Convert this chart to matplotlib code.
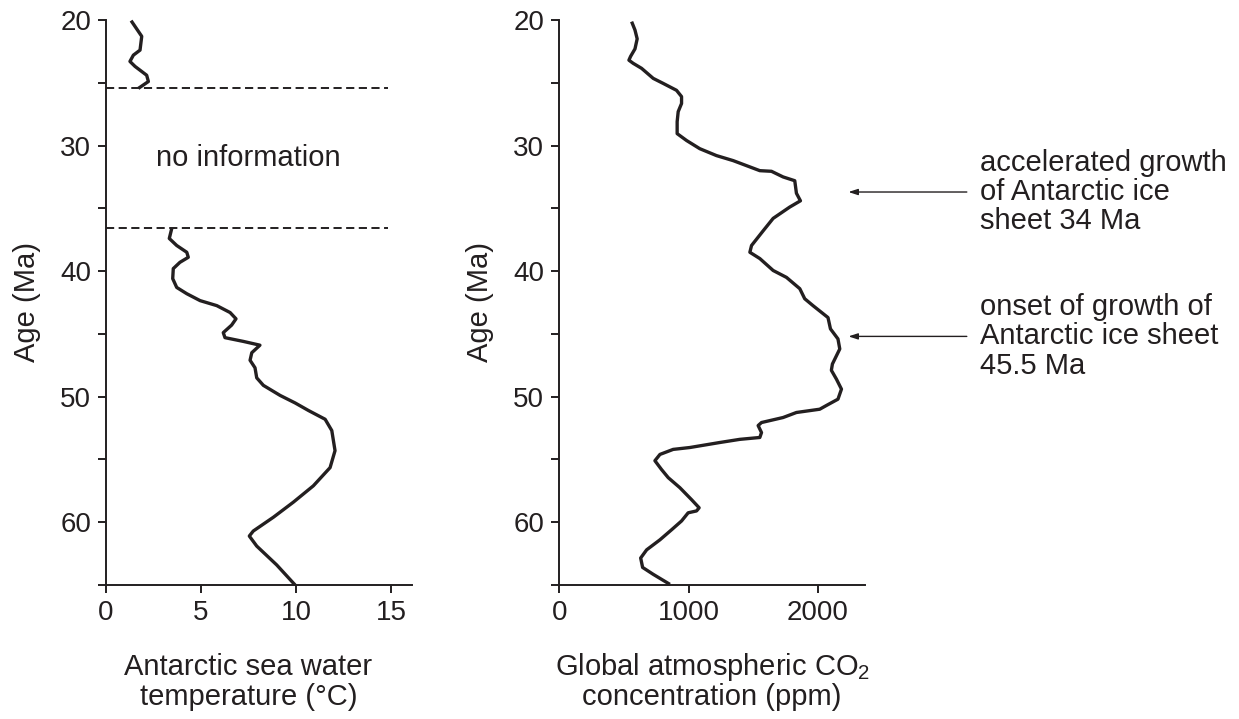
import matplotlib
matplotlib.use("Agg")
import matplotlib.pyplot as plt
import numpy as np

plt.rcParams['font.family'] = ['Liberation Sans', 'DejaVu Sans']
plt.rcParams['mathtext.fontset'] = 'custom'
plt.rcParams['mathtext.rm'] = 'Liberation Sans'
plt.rcParams['mathtext.it'] = 'Liberation Sans'

INK = '#231f20'

# Antarctic sea water temperature, two segments (age Ma, deg C)
temp_age_young = [20.05, 21.3, 22.4, 22.8, 23.3, 23.7, 24.4, 24.9, 25.45]
temp_val_young = [1.32, 1.88, 1.79, 1.44, 1.26, 1.53, 2.14, 2.23, 1.70]

temp_age_old = [36.6, 37.4, 37.96, 38.5, 38.9, 39.3, 39.8, 40.6, 41.3, 41.8,
                42.35, 42.75, 43.3, 43.8, 44.3, 44.9, 45.3, 45.6, 45.9, 46.5,
                47.1, 47.7, 48.5, 49.1, 49.9, 50.5, 51.1, 51.8, 52.7, 54.3,
                55.65, 57.1, 58.4, 59.6, 60.7, 61.1, 61.9, 63.4, 65.0]
temp_val_old = [3.46, 3.33, 3.72, 4.25, 4.33, 3.89, 3.54, 3.51, 3.72, 4.25,
                4.95, 5.83, 6.53, 6.84, 6.61, 6.17, 6.26, 7.23, 8.10, 7.67,
                7.58, 7.84, 7.93, 8.28, 9.16, 9.95, 10.65, 11.53, 11.88, 12.05,
                11.79, 10.91, 9.86, 8.81, 7.75, 7.54, 7.93, 8.98, 9.95]

# gap with no data
no_info_bounds = [25.45, 36.57]

# Global atmospheric CO2 (age Ma, ppm)
co2_age = [20.13, 20.8, 21.5, 22.3, 22.9, 23.2, 23.45, 23.85, 24.65, 25.05,
           25.6, 26.1, 26.65, 27.3, 28.1, 29.05, 29.6, 30.25, 30.8, 31.2,
           31.6, 32.0, 32.05, 32.5, 32.8, 33.8, 34.4, 34.9, 35.8, 36.8,
           37.96, 38.5, 39.0, 39.95, 40.5, 41.4, 42.2, 42.75, 43.7, 44.6,
           45.4, 46.2, 47.4, 47.9, 48.6, 49.4, 50.2, 50.7, 51.0, 51.26,
           51.66, 52.06, 52.3, 52.86, 53.25, 53.4, 53.65, 54.05, 54.2, 54.6,
           55.1, 55.8, 56.45, 57.25, 58.2, 58.85, 59.1, 59.25, 59.9, 60.6,
           61.4, 62.2, 62.85, 63.6, 64.15, 64.95]
co2_val = [559, 585, 602, 585, 551, 538, 571, 636, 726, 803,
           906, 945, 945, 919, 911, 911, 984, 1086, 1215, 1344,
           1447, 1550, 1640, 1730, 1820, 1833, 1864, 1781, 1653, 1575,
           1486, 1473, 1550, 1653, 1756, 1859, 1897, 1961, 2077, 2096,
           2154, 2168, 2111, 2103, 2142, 2181, 2154, 2065, 2013, 1833,
           1730, 1563, 1537, 1563, 1550, 1395, 1241, 1009, 880, 778,
           739, 790, 842, 932, 1022, 1081, 1061, 996, 945, 868,
           778, 675, 629, 644, 726, 855]

events = [(33.7, "accelerated growth\nof Antarctic ice\nsheet 34 Ma"),
          (45.2, "onset of growth of\nAntarctic ice sheet\n45.5 Ma")]

W, H = 1239, 719
fig = plt.figure(figsize=(W / 100, H / 100), dpi=100)
ax1 = fig.add_axes([106 / W, 1 - 585 / H, (412 - 106) / W, 565 / H])
ax2 = fig.add_axes([559.3 / W, 1 - 585 / H, (865 - 559.3) / W, 565 / H])

line_kw = dict(color=INK, lw=2.4, solid_joinstyle='round', solid_capstyle='butt', clip_on=False)
ax1.plot(temp_val_young, temp_age_young, **line_kw)
ax1.plot(temp_val_old, temp_age_old, **line_kw)
for b in no_info_bounds:
    ax1.plot([0, 14.85], [b, b], color=INK, lw=1.4, dashes=(4.2, 2.3), clip_on=False)
ax1.text(7.5, 31.0, "no information", ha='center', va='center', fontsize=21, color=INK)

ax2.plot(co2_val, co2_age, **line_kw)

for ax, xmax, xt in [(ax1, 16.1, [0, 5, 10, 15]), (ax2, 2363, [0, 1000, 2000])]:
    ax.set_xlim(0, xmax)
    ax.set_ylim(65, 20)
    ax.set_xticks(xt)
    ax.set_yticks([20, 30, 40, 50, 60])
    ax.set_yticks([25, 35, 45, 55, 65], minor=True)
    for s in ['top', 'right']:
        ax.spines[s].set_visible(False)
    for s in ['left', 'bottom']:
        ax.spines[s].set_linewidth(1.4)
        ax.spines[s].set_color(INK)
    ax.tick_params(which='both', direction='out', length=5.8, width=1.4, color=INK,
                   labelsize=20, labelcolor=INK)
    ax.tick_params(axis='y', pad=5)
    ax.tick_params(axis='x', pad=5)
    ax.set_ylabel("Age (Ma)", fontsize=21, color=INK, labelpad=14)
    ax.patch.set_visible(False)

ax1.set_xlabel("Antarctic sea water\ntemperature (°C)", fontsize=21, color=INK, linespacing=1.08)
ax1.xaxis.set_label_coords(7.5 / 16.1, -0.12)
ax2.set_xlabel("Global atmospheric CO$_2$\nconcentration (ppm)", fontsize=21, color=INK, linespacing=1.0)
ax2.xaxis.set_label_coords(0.5, -0.117)

for age, label in events:
    ax2.annotate("", xy=(2235, age), xytext=(3150, age), annotation_clip=False,
                 arrowprops=dict(arrowstyle='-|>,head_length=0.55,head_width=0.18',
                                 color=INK, lw=1.0, shrinkA=0, shrinkB=0))
    ax2.text(3250, age, label, ha='left', va='center', fontsize=21, color=INK,
             linespacing=1.05, clip_on=False)

fig.savefig("out.png", dpi=100)
